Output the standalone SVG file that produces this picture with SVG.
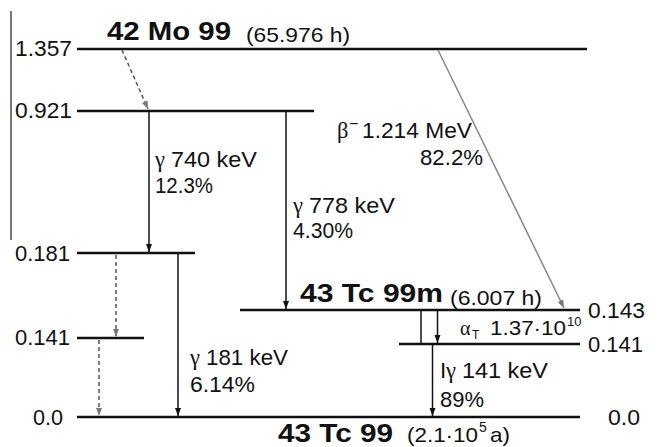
<svg xmlns="http://www.w3.org/2000/svg" width="662" height="447" viewBox="0 0 662 447">
<style>
text{font-family:"Liberation Sans",Arial,sans-serif;fill:#111}
.g{font-family:"Liberation Serif","Times New Roman",serif}
.lvl{stroke:#111;stroke-width:2.5;fill:none}
.lab{font-size:22.5px}
.t{font-size:22.5px}
.title{font-size:26px;font-weight:bold}
.hl{font-size:21px}
.arr{stroke:#111;stroke-width:1.5;fill:none;marker-end:url(#ah)}
.dsh{stroke:#555;stroke-width:1.5;stroke-dasharray:4 3;fill:none;marker-end:url(#ahg)}
.gry{stroke:#888;stroke-width:1.5;fill:none;marker-end:url(#ahg)}
</style>
<defs>
<marker id="ah" markerUnits="userSpaceOnUse" markerWidth="9" markerHeight="7" refX="8" refY="3" orient="auto"><path d="M0,0 L8,3 L0,6 z" fill="#111"/></marker>
<marker id="ahg" markerUnits="userSpaceOnUse" markerWidth="9" markerHeight="7" refX="8" refY="3" orient="auto"><path d="M0,0 L8,3 L0,6 z" fill="#777"/></marker>
</defs>
<rect width="662" height="447" fill="#fff"/>
<line x1="11" y1="11" x2="11" y2="240" stroke="#777" stroke-width="2"/>

<g id="mo99">
<line class="lvl" x1="77" y1="49" x2="587" y2="49"/>
<text class="title" x="107" y="40" textLength="124" lengthAdjust="spacingAndGlyphs">42 Mo 99</text>
<text class="hl" x="246" y="42" textLength="104" lengthAdjust="spacingAndGlyphs">(65.976 h)</text>
<text class="lab" x="15" y="56" textLength="57" lengthAdjust="spacingAndGlyphs">1.357</text>
</g>
<g id="l0921">
<line class="lvl" x1="77" y1="111" x2="314" y2="111"/>
<text class="lab" x="15" y="118" textLength="57" lengthAdjust="spacingAndGlyphs">0.921</text>
</g>
<g id="l0181">
<line class="lvl" x1="77" y1="253" x2="195" y2="253"/>
<text class="lab" x="15" y="261" textLength="55" lengthAdjust="spacingAndGlyphs">0.181</text>
</g>
<g id="l0141a">
<line class="lvl" x1="77" y1="338" x2="144" y2="338"/>
<text class="lab" x="15" y="345" textLength="55" lengthAdjust="spacingAndGlyphs">0.141</text>
</g>
<g id="tc99m">
<line class="lvl" x1="240" y1="310" x2="580" y2="310"/>
<text class="title" x="300" y="302" textLength="143" lengthAdjust="spacingAndGlyphs">43 Tc 99m</text>
<text class="hl" x="450" y="305" textLength="92" lengthAdjust="spacingAndGlyphs">(6.007 h)</text>
<text class="lab" x="588" y="318" textLength="57" lengthAdjust="spacingAndGlyphs">0.143</text>
</g>
<g id="l0141b">
<line class="lvl" x1="399" y1="344" x2="580" y2="344"/>
<text class="lab" x="588" y="352" textLength="55" lengthAdjust="spacingAndGlyphs">0.141</text>
</g>
<g id="tc99">
<line class="lvl" x1="77" y1="417" x2="580" y2="417"/>
<text class="title" x="278" y="442" textLength="115" lengthAdjust="spacingAndGlyphs">43 Tc 99</text>
<text class="hl" x="407" y="442" textLength="71" lengthAdjust="spacingAndGlyphs">(2.1·10</text>
<text x="479" y="432" font-size="14">5</text>
<text class="hl" x="490" y="442" textLength="20" lengthAdjust="spacingAndGlyphs">a)</text>
<text class="lab" x="33" y="425" textLength="30" lengthAdjust="spacingAndGlyphs">0.0</text>
<text class="lab" x="608" y="425" textLength="32" lengthAdjust="spacingAndGlyphs">0.0</text>
</g>

<g id="connectors">
<line class="dsh" x1="122" y1="50" x2="148" y2="109"/>
<line class="gry" x1="438" y1="50" x2="564" y2="308"/>
<line class="arr" x1="149" y1="112" x2="149" y2="252"/>
<line class="arr" x1="286" y1="112" x2="286" y2="309"/>
<line class="dsh" x1="116" y1="255" x2="116" y2="337"/>
<line class="dsh" x1="99" y1="340" x2="99" y2="416"/>
<line class="arr" x1="178" y1="254" x2="178" y2="416"/>
<line x1="421" y1="311" x2="421" y2="343" stroke="#111" stroke-width="1.5"/>
<line class="arr" x1="437.5" y1="311" x2="437.5" y2="343"/>
<line class="arr" x1="432.5" y1="345" x2="432.5" y2="416"/>
</g>

<g id="labels">
<text class="t g" x="155" y="167">γ</text>
<text class="t" x="171" y="167" textLength="86" lengthAdjust="spacingAndGlyphs">740 keV</text>
<text class="t" x="155" y="193" textLength="58" lengthAdjust="spacingAndGlyphs">12.3%</text>
<text class="t g" x="293" y="213">γ</text>
<text class="t" x="309" y="213" textLength="86" lengthAdjust="spacingAndGlyphs">778 keV</text>
<text class="t" x="293" y="238" textLength="60" lengthAdjust="spacingAndGlyphs">4.30%</text>
<text class="t g" x="337" y="138">β</text>
<text x="349" y="129" font-size="16">−</text>
<text class="t" x="362" y="138" textLength="110" lengthAdjust="spacingAndGlyphs">1.214 MeV</text>
<text class="t" x="420" y="165" textLength="63" lengthAdjust="spacingAndGlyphs">82.2%</text>
<text class="t g" x="190" y="365">γ</text>
<text class="t" x="206" y="365" textLength="82" lengthAdjust="spacingAndGlyphs">181 keV</text>
<text class="t" x="190" y="392" textLength="65" lengthAdjust="spacingAndGlyphs">6.14%</text>
<text class="g" x="460" y="335" font-size="20">α</text>
<text x="472" y="339" font-size="12">T</text>
<text x="490" y="335" font-size="21" textLength="76" lengthAdjust="spacingAndGlyphs">1.37·10</text>
<text x="567" y="326" font-size="13">10</text>
<text class="t" x="440" y="378">I</text>
<text class="t g" x="446" y="378">γ</text>
<text class="t" x="462" y="378" textLength="86" lengthAdjust="spacingAndGlyphs">141 keV</text>
<text class="t" x="440" y="407" textLength="44" lengthAdjust="spacingAndGlyphs">89%</text>
</g>
</svg>
